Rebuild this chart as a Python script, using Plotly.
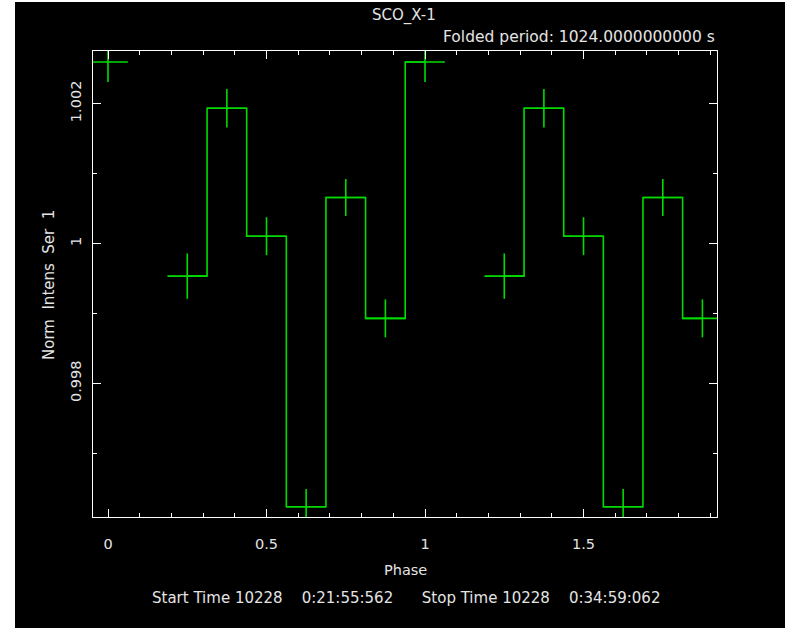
import plotly.graph_objects as go

# Folded light-curve data (one period, 8 phase bins; bin at 0.125 is empty)
phase_bins = [0.0, 0.125, 0.25, 0.375, 0.5, 0.625, 0.75, 0.875]
norm_intens = [1.002594, None, 0.999533, 1.001933, 1.000104, 0.996237, 1.000657, 0.998929]
intens_err = [0.000286, None, 0.000324, 0.000274, 0.000271, 0.000253, 0.000264, 0.000271]
bin_halfwidth = 0.0625
n_periods = 2

x_ticks = [0, 0.5, 1, 1.5]
x_ticktext = ["0", "0.5", "1", "1.5"]
y_ticks = [0.998, 1.0, 1.002]
y_ticktext = ["0.998", "1", "1.002"]

NB = "\u00a0"
title_text = "SCO_X-1"
period_text = "Folded period: 1024.0000000000 s"
xlabel = "Phase"
ylabel = "Norm" + NB * 2 + "Intens" + NB * 2 + "Ser" + NB * 2 + "1"
time_text = ("Start" + NB + "Time" + NB + "10228" + NB * 4 + "0:21:55:562" + NB * 6 +
             "Stop" + NB + "Time" + NB + "10228" + NB * 4 + "0:34:59:062")

# repeat the folded profile over two periods (as the plot shows)
xs, ys, es = [], [], []
for p in range(n_periods):
    for ph, v, e in zip(phase_bins, norm_intens, intens_err):
        xs.append(ph + p)
        ys.append(v)
        es.append(e)

GREEN = "#00dc00"
TXT = "#e4e4e4"
FONT = "DejaVu Sans"

fig = go.Figure()
fig.add_trace(go.Scatter(
    x=xs, y=ys, mode="lines", line=dict(color=GREEN, width=1.6, shape="hvh"),
    connectgaps=False,
    error_y=dict(type="data", array=es, color=GREEN, thickness=1.6, width=0, visible=True),
    error_x=dict(type="constant", value=bin_halfwidth, color=GREEN, thickness=1.6, width=0, visible=True),
    showlegend=False, hoverinfo="skip",
))

W, H = 785, 628
L, R, T, B = 93, 717, 51, 517
pw, ph_ = R - L, B - T

def px(x):
    return (x - L) / pw

def py(y):
    return (B - y) / ph_

axis_common = dict(
    showline=True, linecolor="white", linewidth=1, mirror="ticks",
    ticks="inside", tickcolor="white", tickwidth=1, ticklen=8,
    showgrid=False, zeroline=False,
    tickfont=dict(family=FONT, size=14.5, color=TXT),
)

fig.update_layout(
    width=W, height=H,
    margin=dict(l=L, r=W - R, t=T, b=H - B, pad=0),
    paper_bgcolor="black", plot_bgcolor="black",
    xaxis=dict(range=[-0.0473, 1.921], tickvals=x_ticks, ticktext=x_ticktext,
               minor=dict(dtick=0.1, tick0=0, ticks="inside", ticklen=4, tickcolor="white", tickwidth=1),
               ticklabelstandoff=14, **axis_common),
    yaxis=dict(range=[0.99609, 1.002751], tickvals=y_ticks, ticktext=y_ticktext,
               minor=dict(dtick=0.001, tick0=1.0, ticks="inside", ticklen=4, tickcolor="white", tickwidth=1),
               tickangle=-90, ticklabelstandoff=5, **axis_common),
    shapes=[
        dict(type="rect", xref="paper", yref="paper", x0=px(0), x1=px(15), y0=py(H), y1=py(0),
             fillcolor="white", line=dict(width=0), layer="above"),
        dict(type="rect", xref="paper", yref="paper", x0=px(0), x1=px(W), y0=py(2), y1=py(0),
             fillcolor="white", line=dict(width=0), layer="above"),
    ],
    annotations=[
        dict(text=title_text, x=px(404), y=py(15), xref="paper", yref="paper", showarrow=False,
             xanchor="center", yanchor="middle", font=dict(family=FONT, size=15, color=TXT)),
        dict(text=period_text, x=px(717), y=py(37), xref="paper", yref="paper", showarrow=False,
             xanchor="right", yanchor="middle", font=dict(family=FONT, size=15.5, color=TXT)),
        dict(text=xlabel, x=px(405), y=py(570), xref="paper", yref="paper", showarrow=False,
             xanchor="center", yanchor="middle", font=dict(family=FONT, size=14.5, color=TXT)),
        dict(text=ylabel, x=px(49), y=py(285), xref="paper", yref="paper", showarrow=False,
             xanchor="center", yanchor="middle", textangle=-90, font=dict(family=FONT, size=15, color=TXT)),
        dict(text=time_text, x=px(406), y=py(598), xref="paper", yref="paper", showarrow=False,
             xanchor="center", yanchor="middle", font=dict(family=FONT, size=15, color=TXT)),
    ],
)

fig.write_html("out.html")
